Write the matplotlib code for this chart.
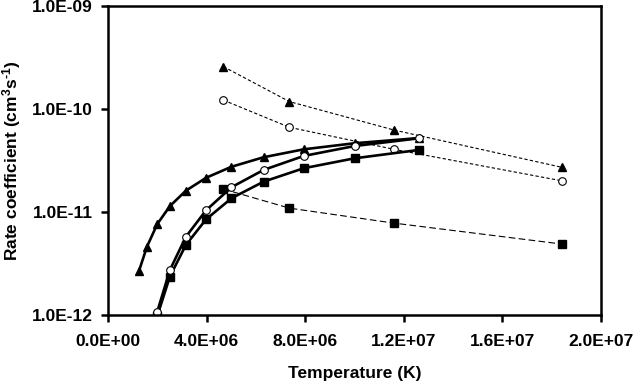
import matplotlib
matplotlib.use("Agg")
import matplotlib.pyplot as plt

plt.rcParams['font.family'] = ['Liberation Sans', 'DejaVu Sans']
plt.rcParams['font.weight'] = 'bold'
plt.rcParams['mathtext.fontset'] = 'custom'
plt.rcParams['mathtext.rm'] = 'Liberation Sans:bold'
plt.rcParams['mathtext.bf'] = 'Liberation Sans:bold'
plt.rcParams['mathtext.it'] = 'Liberation Sans:bold'

# Solid curves (temperature grid)
T_solid = [1.26e6, 1.58e6, 2.0e6, 2.51e6, 3.16e6, 3.98e6, 5.01e6, 6.31e6, 7.94e6, 1.0e7, 1.26e7]
tri_solid = [2.69e-12, 4.6e-12, 7.64e-12, 1.14e-11, 1.61e-11, 2.15e-11, 2.75e-11, 3.40e-11, 4.06e-11, 4.65e-11, 5.22e-11]

T_circ_solid = [2.0e6, 2.51e6, 3.16e6, 3.98e6, 5.01e6, 6.31e6, 7.94e6, 1.0e7, 1.26e7]
circ_solid = [1.08e-12, 2.73e-12, 5.75e-12, 1.04e-11, 1.74e-11, 2.56e-11, 3.50e-11, 4.37e-11, 5.19e-11]

T_sq_solid = [2.0e6, 2.51e6, 3.16e6, 3.98e6, 5.01e6, 6.31e6, 7.94e6, 1.0e7, 1.26e7]
sq_solid = [0.98e-12, 2.36e-12, 4.79e-12, 8.49e-12, 1.36e-11, 1.97e-11, 2.66e-11, 3.32e-11, 4.0e-11]

# Dashed curves
T_dash = [4.68e6, 7.36e6, 1.16e7, 1.84e7]
tri_dash = [2.58e-10, 1.18e-10, 6.25e-11, 2.72e-11]
circ_dash = [1.22e-10, 6.64e-11, 4.06e-11, 2.01e-11]
sq_dash = [1.67e-11, 1.09e-11, 7.8e-12, 4.89e-12]

xticks = [0, 4e6, 8e6, 1.2e7, 1.6e7, 2e7]
xtick_labels = ['0.0E+00', '4.0E+06', '8.0E+06', '1.2E+07', '1.6E+07', '2.0E+07']
yticks = [1e-12, 1e-11, 1e-10, 1e-9]
ytick_labels = ['1.0E-12', '1.0E-11', '1.0E-10', '1.0E-09']

fig = plt.figure(figsize=(6.36, 3.82), dpi=100)
ax = fig.add_axes([108/636, 1-315/382, (601-108)/636, (315-6)/382])
ax.set_yscale('log')

lw_solid = 1.9
lw_dash = 0.8
ms = 5.5

ax.plot(T_dash, tri_dash, color='black', lw=lw_dash, ls=(0, (3, 2)), marker='^', ms=ms, mfc='black', mec='black')
ax.plot(T_dash, circ_dash, color='black', lw=lw_dash, ls=(0, (3, 2)), marker='o', ms=ms, mfc='white', mec='black', mew=0.8)
ax.plot(T_dash, sq_dash, color='black', lw=lw_dash, ls=(0, (6, 3)), marker='s', ms=ms, mfc='black', mec='black')

ax.plot(T_solid, tri_solid, color='black', lw=lw_solid, marker='^', ms=ms, mfc='black', mec='black')
ax.plot(T_sq_solid, sq_solid, color='black', lw=lw_solid, marker='s', ms=ms, mfc='black', mec='black')
ax.plot(T_circ_solid, circ_solid, color='black', lw=lw_solid, marker='o', ms=ms, mfc='white', mec='black', mew=0.8)

ax.set_xlim(0, 2e7)
ax.set_ylim(1e-12, 1e-9)
ax.set_xticks(xticks)
ax.set_xticklabels(xtick_labels)
ax.set_yticks(yticks)
ax.set_yticklabels(ytick_labels)
ax.yaxis.set_minor_locator(matplotlib.ticker.NullLocator())

for s in ax.spines.values():
    s.set_linewidth(1.8)
ax.tick_params(axis='both', which='major', direction='out', length=5, width=1.8,
               labelsize=12.5)
ax.tick_params(axis='x', pad=9)
ax.tick_params(axis='y', pad=6)
for lab in ax.get_xticklabels() + ax.get_yticklabels():
    lab.set_fontweight('bold')

ax.set_xlabel('Temperature (K)', fontsize=12.5, fontweight='bold', labelpad=12)
ax.set_ylabel(r'Rate coefficient (cm$^{3}$s$^{\text{-1}}$)', fontsize=12.5, fontweight='bold', labelpad=6)

fig.savefig('out.png', dpi=100)
